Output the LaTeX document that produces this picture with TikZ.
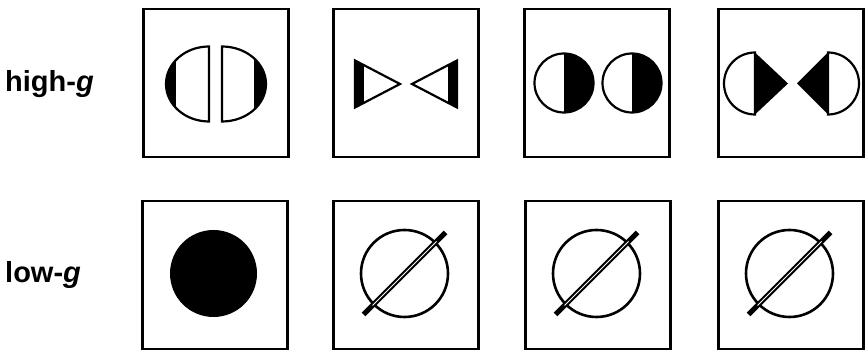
\documentclass[tikz,border=0pt]{standalone}
\usepackage{fontspec}
\setmainfont{Liberation Sans}
\begin{document}
\begin{tikzpicture}[x=1pt,y=1pt,
  panel/.style={draw,line width=2.3pt,minimum width=145pt,minimum height=148pt,inner sep=0pt},
  rowlabel/.style={anchor=base west,inner sep=0pt,font=\fontsize{29}{32}\selectfont\bfseries},
  edge/.style={line width=2.2pt},
  rim/.style={line width=2.6pt}]
\useasboundingbox (0,0) rectangle (868,352);
\node[rowlabel] (HG) at (5,260) {high-\textit{g}};
\node[rowlabel] (LG) at (5,69) {low-\textit{g}};
\node[panel] (H1) at (216,269) {};
\node[panel] (H2) at (406,269) {};
\node[panel] (H3) at (597,269) {};
\node[panel] (H4) at (791,269) {};
\node[panel] (L1) at (215,77) {};
\node[panel] (L2) at (406,77) {};
\node[panel] (L3) at (598,77) {};
\node[panel] (L4) at (791,77) {};
% high-g, first panel
\begin{scope}[shift={(H1.center)},yshift=-1pt]
\begin{scope}
\clip (-7,37.5) -- (-7,-37.5) arc[start angle=270,end angle=90,x radius=43,y radius=37.5] -- cycle;
\fill (-60,-40) rectangle (-40,40);
\end{scope}
\draw[edge] (-7,37.5) -- (-7,-37.5) arc[start angle=270,end angle=90,x radius=43,y radius=37.5] -- cycle;
\begin{scope}
\clip (6,37.5) -- (6,-37.5) arc[start angle=-90,end angle=90,x radius=44,y radius=37.5] -- cycle;
\fill (38,-40) rectangle (60,40);
\end{scope}
\draw[edge] (6,37.5) -- (6,-37.5) arc[start angle=-90,end angle=90,x radius=44,y radius=37.5] -- cycle;
\end{scope}
% high-g, second panel
\begin{scope}[shift={(H2.center)},yshift=-1pt]
\begin{scope}
\clip (-51,23.5) -- (-51,-23.5) -- (-6,0) -- cycle;
\fill (-55,-25) rectangle (-42,25);
\end{scope}
\draw[edge] (-51,23.5) -- (-51,-23.5) -- (-6,0) -- cycle;
\begin{scope}
\clip (51,23.5) -- (51,-23.5) -- (6,0) -- cycle;
\fill (42,-25) rectangle (55,25);
\end{scope}
\draw[edge] (51,23.5) -- (51,-23.5) -- (6,0) -- cycle;
\end{scope}
% high-g, third panel
\begin{scope}[shift={(H3.center)}]
\fill (-33,29.5) arc[start angle=90,end angle=-90,radius=29.5] -- cycle;
\draw[edge] (-33,0) circle[radius=29.5];
\fill (35,29.5) arc[start angle=90,end angle=-90,radius=29.5] -- cycle;
\draw[edge] (35,0) circle[radius=29.5];
\end{scope}
% high-g, fourth panel
\begin{scope}[shift={(H4.center)},yshift=-0.5pt]
\fill (-36,31) -- (-3,0) -- (-36,-31) -- cycle;
\draw[edge] (-36,31) arc[start angle=90,end angle=270,radius=31] -- cycle;
\fill (37,31) -- (6,0) -- (37,-31) -- cycle;
\draw[edge] (37,31) arc[start angle=90,end angle=-90,radius=31] -- cycle;
\end{scope}
% low-g
\fill ([shift={(-1.5,1.5)}]L1.center) circle[radius=43.5];
\begin{scope}[shift={(L2.center)},xshift=-1.5pt,yshift=1.5pt]
\draw[rim] (0,0) circle[radius=43.5];
\draw[line width=5pt] (-41,-41) -- (41,41);
\draw[white,line width=1pt] (-32,-32) -- (32,32);
\end{scope}
\begin{scope}[shift={(L3.center)},xshift=-1.5pt,yshift=1.5pt]
\draw[rim] (0,0) circle[radius=43.5];
\draw[line width=5pt] (-41,-41) -- (41,41);
\draw[white,line width=1pt] (-32,-32) -- (32,32);
\end{scope}
\begin{scope}[shift={(L4.center)},xshift=-1.5pt,yshift=1.5pt]
\draw[rim] (0,0) circle[radius=43.5];
\draw[line width=5pt] (-41,-41) -- (41,41);
\draw[white,line width=1pt] (-32,-32) -- (32,32);
\end{scope}
\end{tikzpicture}
\end{document}
